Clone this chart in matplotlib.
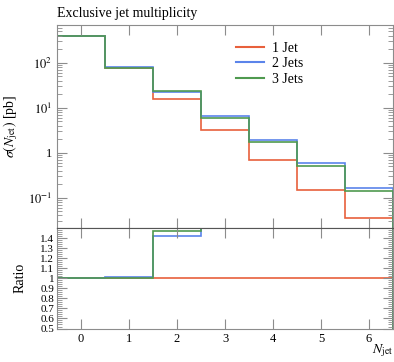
import matplotlib
matplotlib.use('Agg')
import matplotlib.pyplot as plt
import numpy as np
from matplotlib.ticker import FixedLocator, MultipleLocator, LogLocator, NullFormatter

plt.rcParams['font.family'] = 'Liberation Serif'
plt.rcParams['mathtext.fontset'] = 'stix'

# exclusive jet multiplicity, bins centred on 0..6
njet = [0, 1, 2, 3, 4, 5, 6]
xsec_1jet = [400, 77, 15.8, 3.25, 0.70, 0.150, 0.036]
xsec_2jet = [400, 78.3, 22.5, 6.5, 1.95, 0.60, 0.160]
xsec_3jet = [400, 77, 23.2, 6.0, 1.75, 0.51, 0.143]
labels = ['1 Jet', '2 Jets', '3 Jets']
colors = ['#e8603c', '#5b84ea', '#4f9a4f']

edges = np.append(np.array(njet) - 0.5, njet[-1] + 0.5)
series = [np.array(xsec_1jet), np.array(xsec_2jet), np.array(xsec_3jet)]

fig = plt.figure(figsize=(3.94, 3.62), dpi=100)
ax = fig.add_axes([0.1447, 0.370, 0.853, 0.561])
rax = fig.add_axes([0.1447, 0.0925, 0.853, 0.2776], sharex=ax)

spine_col = '#8c8c8c'

for vals, lab, c in zip(series, labels, colors):
    ax.stairs(vals, edges, color=c, lw=1.2, label=lab)
    rax.stairs(vals / series[0], edges, color=c, lw=1.2)

ax.set_yscale('log')
ax.set_ylim(0.021, 690)
ax.set_xlim(-0.5, 6.5)
ax.yaxis.set_major_locator(FixedLocator([0.1, 1, 10, 100]))
ax.set_yticklabels([r'$10^{-1}$', '1', r'$10^{1}$', r'$10^{2}$'])
ax.yaxis.set_minor_locator(LogLocator(base=10, subs=np.arange(2, 10)))
ax.yaxis.set_minor_formatter(NullFormatter())
ax.set_xticks(njet)
ax.tick_params(axis='x', labelbottom=False)
ax.set_ylabel(r'$\sigma(N_{\rm jet})$ [pb]', fontsize=10, labelpad=6)
ax.set_title('Exclusive jet multiplicity', loc='left', fontsize=10, pad=6)

leg = ax.legend(loc='upper right', bbox_to_anchor=(0.77, 0.98), frameon=False,
                fontsize=10, handlelength=2.0, handletextpad=0.6, labelspacing=0.2)
for l in leg.get_lines():
    l.set_linewidth(1.5)

rax.set_ylim(0.5, 1.5)
rax.yaxis.set_major_locator(FixedLocator(np.round(np.arange(0.5, 1.45, 0.1), 1)))
rax.set_yticklabels(['0.5', '0.6', '0.7', '0.8', '0.9', '1', '1.1', '1.2', '1.3', '1.4'])
rax.yaxis.set_minor_locator(MultipleLocator(0.02))
rax.set_xticks(njet)
rax.set_xticklabels([str(n) for n in njet])
rax.set_ylabel('Ratio', fontsize=10, labelpad=10)
rax.set_xlabel(r'$N_{\rm jet}$', fontsize=10, loc='right', labelpad=-2)

for a in (ax, rax):
    a.tick_params(which='both', direction='in', top=True, right=True,
                  color=spine_col, labelsize=9)
    a.tick_params(which='major', length=7, width=0.8)
    a.tick_params(which='minor', length=3.5, width=0.6)
    for s in a.spines.values():
        s.set_color(spine_col)
        s.set_linewidth(0.8)
rax.tick_params(axis='y', labelsize=8, pad=2)
rax.tick_params(axis='x', which='minor', top=False, bottom=False)
rax.spines['top'].set_color('#555555')
ax.spines['bottom'].set_color('#555555')

fig.savefig('out.png', dpi=100)
